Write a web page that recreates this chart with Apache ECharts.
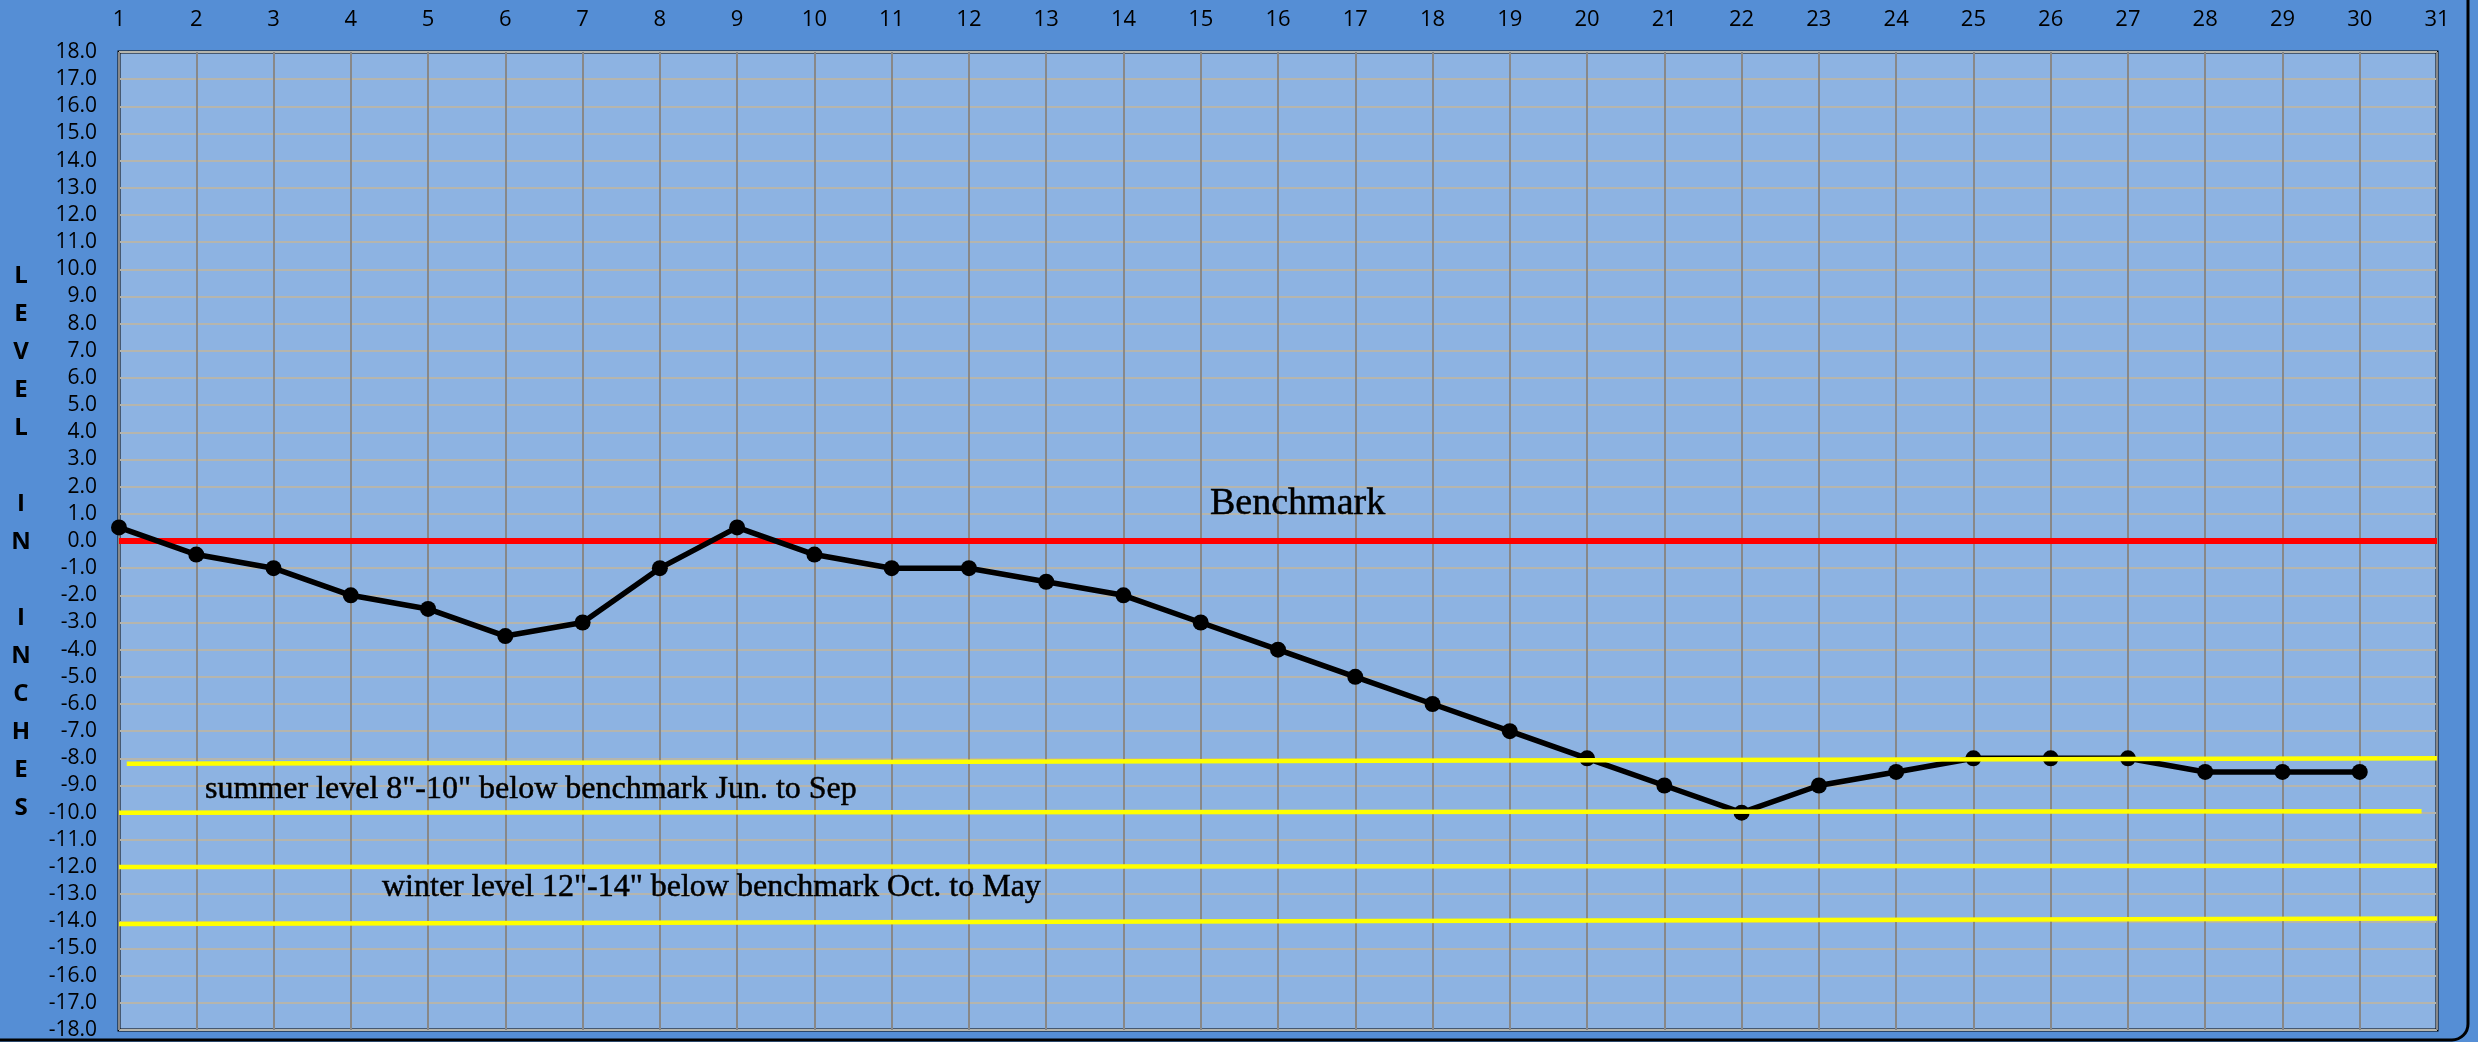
<!DOCTYPE html>
<html>
<head>
<meta charset="utf-8">
<script src="https://cdn.jsdelivr.net/npm/echarts@6/dist/echarts.min.js"></script>
<style>
html,body{margin:0;padding:0;background:#558ED5;}
#chart{width:2478px;height:1042px;}
</style>
</head>
<body>
<div id="chart"></div>
<script>
// ---- data ----
const days = [1,2,3,4,5,6,7,8,9,10,11,12,13,14,15,16,17,18,19,20,21,22,23,24,25,26,27,28,29,30];
const levels = [0.5,-0.5,-1,-2,-2.5,-3.5,-3,-1,0.5,-0.5,-1,-1,-1.5,-2,-3,-4,-5,-6,-7,-8,-9,-10,-9,-8.5,-8,-8,-8,-8.5,-8.5,-8.5];
const benchmarkX = [1, 31];
const benchmarkY = [0, 0];
const summerTopX = [1.1, 31];   const summerTopY = [-8.2, -8.0];
const summerBotX = [1, 30.8];   const summerBotY = [-10.0, -9.95];
const winterTopX = [1, 31];     const winterTopY = [-12.0, -11.95];
const winterBotX = [1, 31];     const winterBotY = [-14.1, -13.9];
const xTicks = {min: 1, max: 31, step: 1};
const yTicks = {min: -18, max: 18, step: 1};
const yTitle = ['L','E','V','E','L','','I','N','','I','N','C','H','E','S'];
const benchmarkText = 'Benchmark';
const summerText = 'summer level 8"-10" below benchmark Jun. to Sep';
const winterText = 'winter level 12"-14" below benchmark Oct. to May';

const pairs = (xs, ys) => xs.map((x, i) => [x, ys[i]]);

const chart = echarts.init(document.getElementById('chart'), null, {renderer: 'canvas'});
const yellowSeries = (xs, ys) => ({
  type: 'line', data: pairs(xs, ys), symbol: 'none', silent: true, z: 5,
  lineStyle: {color: '#FFFF00', width: 4.5}
});
const serifStyle = (text, size) => ({
  text: text, font: size + 'px "Liberation Serif"', fill: '#000',
  stroke: '#000', lineWidth: 0.5, verticalAlign: 'middle'
});
chart.setOption({
  backgroundColor: '#558ED5',
  animation: false,
  grid: {left: 119, top: 52, right: 41, bottom: 12, show: true,
         backgroundColor: '#8DB3E2', borderColor: '#000', borderWidth: 3},
  xAxis: {
    type: 'value', position: 'top', min: xTicks.min, max: xTicks.max, interval: xTicks.step,
    axisLine: {show: false}, axisTick: {show: false},
    axisLabel: {color: '#000', fontFamily: 'Open Sans', fontSize: 22, margin: 21},
    splitLine: {show: true, lineStyle: {color: '#888888', width: 2}}
  },
  yAxis: {
    type: 'value', min: yTicks.min, max: yTicks.max, interval: yTicks.step,
    axisLine: {show: false}, axisTick: {show: false},
    axisLabel: {color: '#000', fontFamily: 'Open Sans', fontSize: 21, margin: 22,
                formatter: v => v.toFixed(1)},
    splitLine: {show: true, lineStyle: {color: '#B5B5AD', width: 2}}
  },
  series: [
    {type: 'line', data: pairs(benchmarkX, benchmarkY), symbol: 'none', z: 2,
     lineStyle: {color: '#FF0000', width: 6}},
    {type: 'line', data: pairs(days, levels), symbol: 'circle', symbolSize: 16, z: 3,
     itemStyle: {color: '#000'}, lineStyle: {color: '#000', width: 5.5}},
    yellowSeries(summerTopX, summerTopY),
    yellowSeries(summerBotX, summerBotY),
    yellowSeries(winterTopX, winterTopY),
    yellowSeries(winterBotX, winterBotY)
  ],
  graphic: [
    {type: 'text', x: 21, y: 542 - yTitle.length * 38 / 2, z: 10,
     style: {text: yTitle.join('\n'), font: 'bold 24px "Open Sans"', fill: '#000',
             lineHeight: 38, align: 'center'}},
    {type: 'text', x: 1210, y: 504, z: 10, style: serifStyle(benchmarkText, 38)},
    {type: 'text', x: 205, y: 790, z: 10, style: serifStyle(summerText, 32)},
    {type: 'text', x: 382, y: 888, z: 10, style: serifStyle(winterText, 32)},
    {type: 'rect', shape: {x: -20, y: -20, width: 2488, height: 1060, r: 16}, z: 20, silent: true,
     style: {fill: 'none', stroke: '#000', lineWidth: 3}}
  ]
});
</script>
</body>
</html>
